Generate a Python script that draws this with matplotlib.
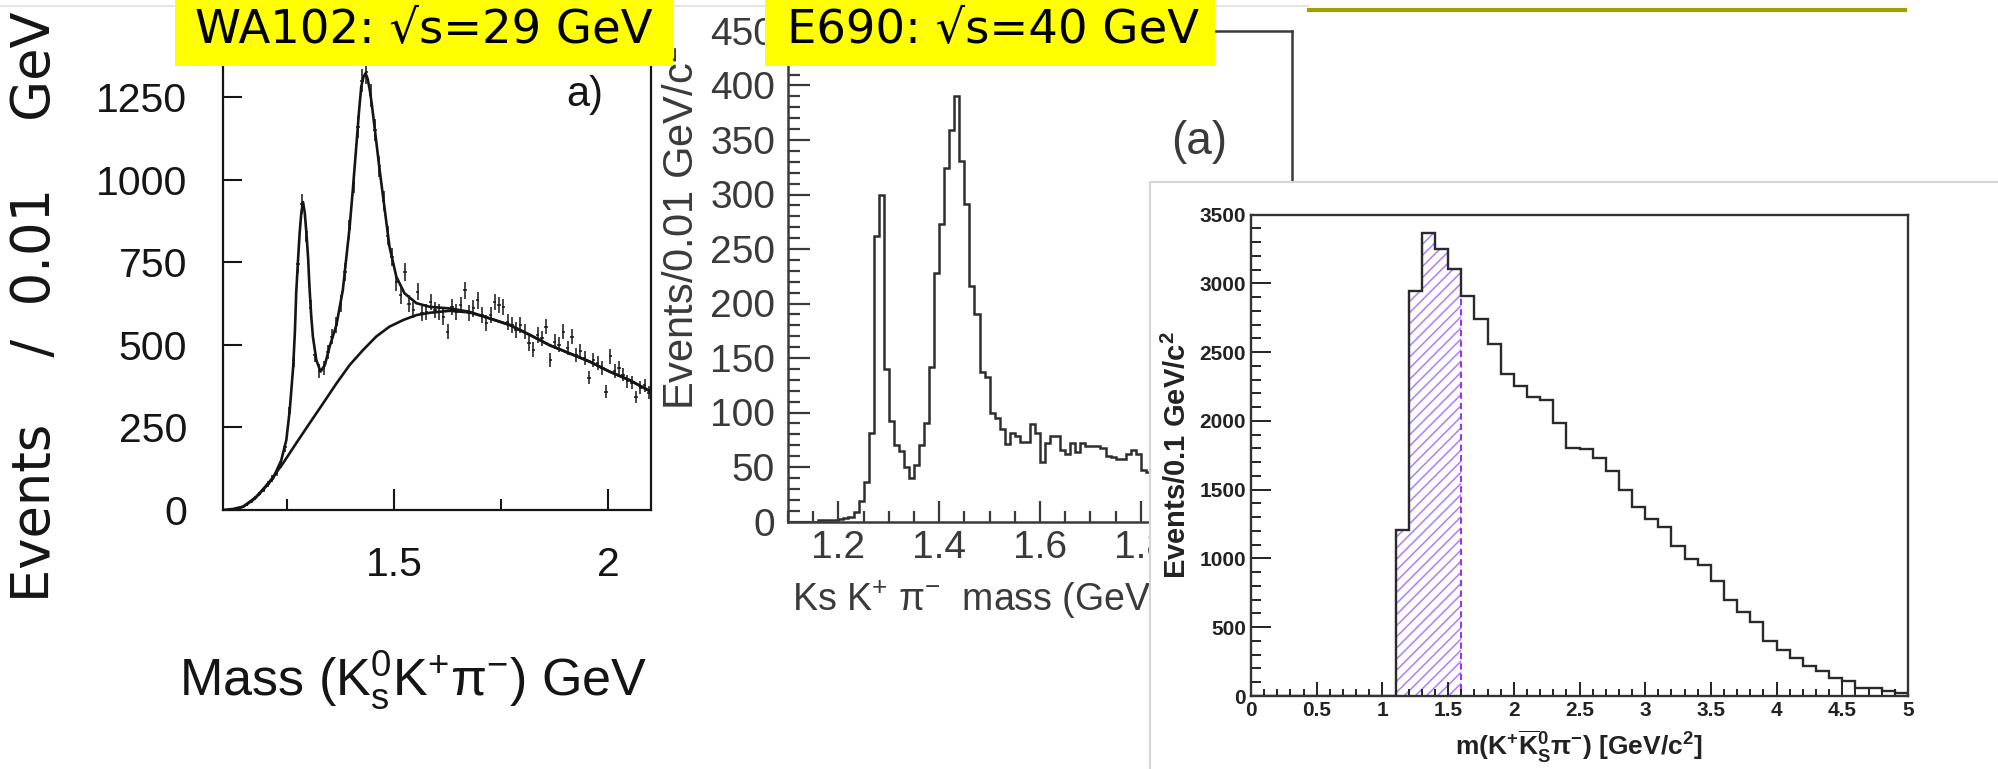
import numpy as np
import matplotlib
matplotlib.use("Agg")
import matplotlib.pyplot as plt
from matplotlib import font_manager
from matplotlib.patches import Rectangle
from matplotlib.lines import Line2D
from matplotlib.ticker import MultipleLocator, FixedLocator, FuncFormatter
from matplotlib.transforms import Bbox, TransformedBbox

# ---------------------------------------------------------------- data
# WA102, sqrt(s)=29 GeV : K0s K+ pi- mass, 0.01 GeV bins from 1.10 to 2.10
wa102_edges = np.round(np.arange(1.10, 2.1001, 0.01), 3)
wa102_counts = [
    1, 2, 4, 6, 10, 16, 25, 36, 48, 62,
    78, 95, 112, 140, 190, 295, 455, 745, 925, 840,
    610, 470, 420, 430, 478, 525, 560, 625, 720, 850,
    990, 1160, 1300, 1325, 1255, 1150, 1040, 935, 830, 765,
    690, 650, 720, 625, 605, 660, 595, 600, 630, 605,
    600, 585, 540, 615, 600, 620, 665, 595, 610, 635,
    590, 565, 590, 630, 620, 615, 570, 560, 545, 560,
    540, 505, 485, 530, 520, 555, 455, 510, 500, 540,
    490, 525, 470, 480, 460, 400, 455, 445, 430, 358,
    465, 420, 430, 410, 390, 385, 343, 370, 378, 355,
]
# fitted total and background curves
wa102_fit_mass = [1.100, 1.123, 1.147, 1.170, 1.193, 1.217, 1.236, 1.248, 1.256,
                  1.264, 1.268, 1.271, 1.275, 1.279, 1.283, 1.287, 1.291, 1.295,
                  1.299, 1.302, 1.306, 1.310, 1.318, 1.328, 1.338, 1.349, 1.365,
                  1.380, 1.396, 1.404, 1.412, 1.418, 1.423, 1.428, 1.433, 1.438,
                  1.443, 1.448, 1.454, 1.466, 1.478, 1.489, 1.505, 1.524, 1.552,
                  1.583, 1.630, 1.676, 1.723, 1.770, 1.817, 1.863, 1.910, 1.957,
                  2.003, 2.050, 2.093, 2.100]
wa102_fit_total = [0, 3, 10, 30, 60, 96, 150, 212, 303,
                   434, 540, 656, 750, 837, 900, 932, 900, 837,
                   760, 676, 590, 525, 454, 419, 439, 494, 560,
                   666, 858, 980, 1110, 1210, 1281, 1310, 1322, 1305,
                   1271, 1225, 1160, 1029, 908, 797, 706, 656, 626,
                   615, 610, 600, 580, 560, 530, 499, 474, 449,
                   419, 393, 363, 358]
wa102_bkg_mass = [1.120, 1.147, 1.178, 1.209, 1.240, 1.271, 1.302, 1.334, 1.365,
                  1.396, 1.427, 1.458, 1.489, 1.521, 1.552, 1.583, 1.630, 1.676,
                  1.723, 1.770, 1.817, 1.863, 1.910, 1.957, 2.003, 2.050, 2.093, 2.100]
wa102_bkg = [0, 10, 40, 86, 141, 202, 262, 323, 383,
             439, 484, 525, 555, 575, 590, 597, 603, 598,
             580, 560, 530, 499, 474, 449, 419, 393, 363, 358]

# E690, sqrt(s)=40 GeV : Ks K+ pi- mass, 0.01 GeV bins starting at 1.10
e690_edges = np.round(np.arange(1.10, 1.8201, 0.01), 3)
e690_counts = [
    0, 0, 0, 0, 0, 0, 1, 1, 1, 1,
    2, 3, 4, 9, 19, 36, 81, 262, 300, 140,
    92, 70, 65, 50, 40, 52, 70, 90, 142, 228,
    273, 324, 359, 390, 331, 291, 216, 190, 137, 133,
    100, 95, 85, 71, 81, 78, 73, 73, 89, 81,
    55, 72, 78, 78, 66, 62, 72, 64, 72, 69,
    69, 69, 67, 60, 59, 57, 57, 62, 66, 62,
    47, 45,
]
e690_mass_ticks = [1.2, 1.4, 1.6, 1.8]

# m(K+ K0bar_S pi-), 0.1 GeV/c2 bins from 0 to 5
kkpi_edges = np.round(np.arange(0.0, 5.0001, 0.1), 2)
kkpi_counts = [
    0, 0, 0, 0, 0, 0, 0, 0, 0, 0,
    0, 1205, 2945, 3366, 3250, 3102, 2906, 2737, 2557, 2342,
    2251, 2172, 2155, 1985, 1806, 1792, 1731, 1638, 1497, 1375,
    1290, 1232, 1093, 997, 950, 833, 700, 610, 538, 400,
    331, 278, 219, 180, 131, 108, 61, 61, 39, 20,
]
kkpi_selected = (1.1, 1.6)

# ---------------------------------------------------------------- helpers
W, H, DPI = 1998, 769, 100


def has_font(name):
    try:
        font_manager.findfont(font_manager.FontProperties(family=name),
                              fallback_to_default=False)
        return True
    except ValueError:
        return False


NARROW_OK = has_font('Liberation Sans Narrow')
NARROW = 'Liberation Sans Narrow' if NARROW_OK else 'Liberation Sans'
SANS = 'Liberation Sans'
PT = 72.0 / DPI          # points per pixel

plt.rcParams['hatch.linewidth'] = 1.1

fig = plt.figure(figsize=(W / DPI, H / DPI), dpi=DPI)
fig.patch.set_facecolor('white')


def axes_px(x0, y0, x1, y1, **kw):
    return fig.add_axes([x0 / W, 1 - y1 / H, (x1 - x0) / W, (y1 - y0) / H], **kw)


def ftext(x, y, s, **kw):
    return fig.text(x / W, 1 - y / H, s, **kw)


fmt_g = FuncFormatter(lambda v, p: f'{v:g}')

# ---------------------------------------------------------------- slide decorations
fig.add_artist(Line2D([0, 1308 / W], [1 - 6 / H] * 2, color='#e4e4e4', lw=1.5,
                      transform=fig.transFigure, zorder=0.5))
fig.add_artist(Line2D([1309 / W, 1905 / W], [1 - 10 / H] * 2, color='#9f9f00', lw=3.0,
                      transform=fig.transFigure, zorder=0.5))

# ---------------------------------------------------------------- panel 1 : WA102
ink1 = '#151515'
ax1 = axes_px(223, 60.7, 651, 510, zorder=1)
ax1.set_xlim(1.1, 2.1)
ax1.set_ylim(0, 1360)
centers = 0.5 * (wa102_edges[:-1] + wa102_edges[1:])
counts = np.asarray(wa102_counts, dtype=float)
ax1.errorbar(centers, counts, yerr=np.sqrt(counts), xerr=0.004, fmt='none',
             ecolor=ink1, elinewidth=1.1, capsize=0)
ax1.plot(wa102_fit_mass, wa102_fit_total, color=ink1, lw=1.9)
ax1.plot(wa102_bkg_mass, wa102_bkg, color=ink1, lw=1.9)
ax1.spines['top'].set_visible(False)
for s in ('left', 'right', 'bottom'):
    ax1.spines[s].set_color(ink1)
    ax1.spines[s].set_linewidth(1.6)
ax1.xaxis.set_major_locator(FixedLocator([1.5, 2.0]))
ax1.xaxis.set_minor_locator(FixedLocator([1.25, 1.75]))
ax1.yaxis.set_major_locator(MultipleLocator(250))
ax1.xaxis.set_major_formatter(fmt_g)
tick_fs1 = 34 if NARROW_OK else 29.5
ax1.tick_params(axis='both', which='both', direction='in', colors=ink1, width=1.5,
                labelsize=tick_fs1, top=False, right=False)
ax1.tick_params(axis='y', which='major', length=19 * PT, pad=36 * PT)
ax1.tick_params(axis='x', which='major', length=21 * PT, pad=36 * PT)
ax1.tick_params(axis='x', which='minor', length=11 * PT)
for lab in ax1.get_xticklabels() + ax1.get_yticklabels():
    lab.set_fontfamily(NARROW)
ftext(585, 95, 'a)', fontsize=34 if NARROW_OK else 30, family=NARROW, color=ink1,
      ha='center', va='center', zorder=1.5)
ftext(35, 307, 'Events    /  0.01    GeV', rotation=90, fontsize=38, family='DejaVu Sans',
      color=ink1, ha='center', va='center', zorder=1.5)
ftext(413, 680, r'Mass (K$^{\mathregular{0}}_{\mathregular{s}}$K$^{\mathregular{+}}$π$^{\mathregular{-}}$) GeV',
      fontsize=42 if NARROW_OK else 37.5, family=NARROW, color=ink1,
      ha='center', va='center', zorder=1.5)

# ---------------------------------------------------------------- panel 2 : E690
ink2 = '#3a3a3a'
ax2 = axes_px(788, 31, 1292, 521.5, zorder=1)
ax2.set_xlim(1.1, 2.1)
ax2.set_ylim(0, 450)
ax2.stairs(e690_counts, e690_edges, color='#2e2e2e', lw=1.8, baseline=None)
for s in ax2.spines.values():
    s.set_color(ink2)
    s.set_linewidth(1.8)
ax2.xaxis.set_major_locator(FixedLocator(e690_mass_ticks))
ax2.xaxis.set_minor_locator(MultipleLocator(0.05))
ax2.yaxis.set_major_locator(MultipleLocator(50))
ax2.yaxis.set_minor_locator(MultipleLocator(10))
ax2.xaxis.set_major_formatter(FuncFormatter(lambda v, p: f'{v:.1f}'))
ax2.tick_params(axis='both', which='both', direction='in', colors=ink2, width=1.6,
                labelsize=28, top=False, right=False)
ax2.tick_params(axis='y', which='major', length=22 * PT, pad=13 * PT)
ax2.tick_params(axis='y', which='minor', length=12 * PT)
ax2.tick_params(axis='x', which='major', length=21 * PT, pad=9 * PT)
ax2.tick_params(axis='x', which='minor', length=11 * PT)
for lab in ax2.get_xticklabels() + ax2.get_yticklabels():
    lab.set_fontfamily(SANS)

# everything of this panel that runs under the next panel's frame is cut there
left_of_frame = TransformedBbox(Bbox([[0, 0], [1150 / W, 1]]), fig.transFigure)
for t in ax2.xaxis.get_major_ticks():
    t.label1.set_clip_box(left_of_frame)
    t.label1.set_clip_on(True)

ftext(1199, 142, '(a)', fontsize=33, family=SANS, color=ink2,
      ha='center', va='center', zorder=1.5)
ftext(683, 228, r'Events/0.01 GeV/c$^{\mathregular{2}}$', rotation=90, fontsize=30,
      family=SANS, color=ink2, ha='center', va='center', zorder=1.5)
xl2 = ftext(792, 598, r'Ks K$^{\mathregular{+}}$ π$^{\mathregular{-}}$  mass (GeV/c$^{\mathregular{2}}$)',
            fontsize=27, family=SANS, color=ink2, ha='left', va='center', zorder=1.5)
xl2.set_clip_box(left_of_frame)
xl2.set_clip_on(True)

# ---------------------------------------------------------------- panel 3 : m(K+ K0bar pi-)
frame = Rectangle((1150 / W, -0.01), (W + 10 - 1150) / W, (769 - 182) / H + 0.01,
                  transform=fig.transFigure, facecolor='white', edgecolor='#d6d6d6',
                  lw=1.5, zorder=2)
fig.add_artist(frame)

ink3 = '#222222'
ax3 = axes_px(1251, 214.5, 1908, 696, zorder=3)
ax3.set_xlim(0, 5)
ax3.set_ylim(0, 3500)
lo, hi = kkpi_selected
sel = [i for i in range(len(kkpi_counts))
       if kkpi_edges[i] >= lo - 1e-9 and kkpi_edges[i + 1] <= hi + 1e-9]
sel_edges = kkpi_edges[sel[0]:sel[-1] + 2]
sel_counts = [kkpi_counts[i] for i in sel]
ax3.stairs(sel_counts, sel_edges, fill=True, baseline=0, facecolor='none',
           edgecolor='#b07cff', hatch='///', lw=0)
ax3.stairs(sel_counts, sel_edges, fill=False, baseline=0, color='#9933ff',
           lw=1.5, ls=(0, (3, 2)))
ax3.stairs(kkpi_counts, kkpi_edges, color='#2a2a2a', lw=1.7, baseline=None)
for s in ax3.spines.values():
    s.set_color('#333333')
    s.set_linewidth(1.7)
ax3.xaxis.set_major_locator(MultipleLocator(0.5))
ax3.xaxis.set_minor_locator(MultipleLocator(0.1))
ax3.yaxis.set_major_locator(MultipleLocator(500))
ax3.yaxis.set_minor_locator(MultipleLocator(100))
ax3.xaxis.set_major_formatter(fmt_g)
ax3.tick_params(axis='both', which='both', direction='in', colors=ink3, width=1.4,
                labelsize=15, top=False, right=False)
ax3.tick_params(axis='y', which='major', length=20 * PT, pad=5 * PT)
ax3.tick_params(axis='y', which='minor', length=10 * PT)
ax3.tick_params(axis='x', which='major', length=14 * PT, pad=5 * PT)
ax3.tick_params(axis='x', which='minor', length=7 * PT)
for lab in ax3.get_xticklabels() + ax3.get_yticklabels():
    lab.set_fontfamily(SANS)
    lab.set_fontweight('bold')
ftext(1177, 455, r'Events/0.1 GeV/c$^{\mathregular{2}}$', rotation=90, fontsize=21,
      family=SANS, weight='bold', color=ink3, ha='center', va='center', zorder=4)
ftext(1579, 747,
      r'm(K$^{\mathregular{+}}\overline{\mathregular{K}}^{\mathregular{0}}_{\mathregular{S}}$π$^{\mathregular{-}}$) [GeV/c$^{\mathregular{2}}$]',
      fontsize=19, family=SANS, weight='bold', color=ink3,
      ha='center', va='center', zorder=4)

# ---------------------------------------------------------------- experiment banners
for (x0, x1, tx, label) in [(175, 673, 195, 'WA102: √s=29 GeV'),
                            (765, 1215, 787, 'E690: √s=40 GeV')]:
    fig.add_artist(Rectangle((x0 / W, 1 - 66 / H), (x1 - x0) / W, 66 / H + 0.01,
                             transform=fig.transFigure, facecolor='#ffff00',
                             edgecolor='none', zorder=10))
    ftext(tx, 31, label, fontsize=33.5, family='DejaVu Sans', color='black',
          ha='left', va='center', zorder=11)

fig.savefig('out.png', dpi=DPI, facecolor='white')
